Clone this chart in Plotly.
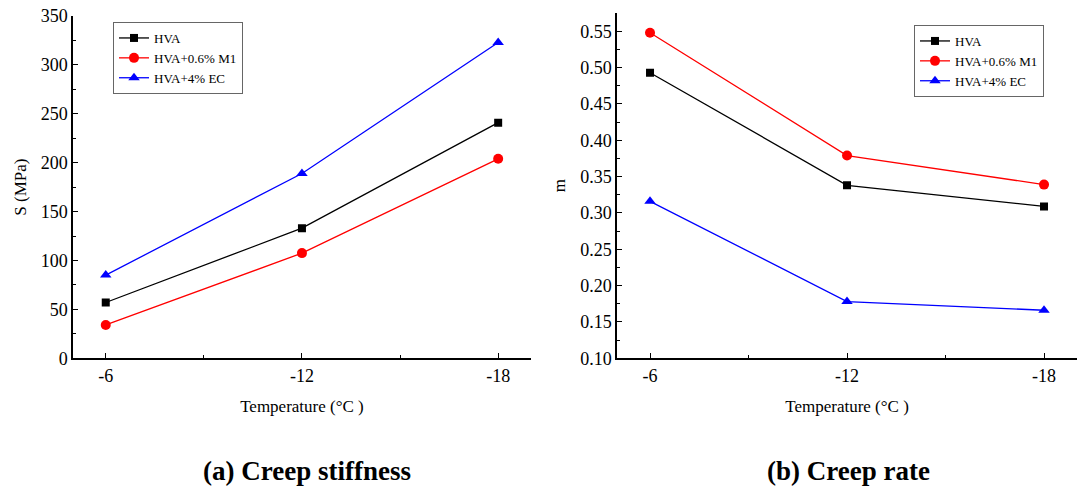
import plotly.graph_objects as go

temps = [-6, -12, -18]
series_names = ["HVA", "HVA+0.6% M1", "HVA+4% EC"]
colors = ["#000000", "#ff0000", "#0000ff"]
symbols = ["square", "circle", "triangle-up"]
msizes = [8, 10, 10]

stiffness_hva = [57, 133, 241]
stiffness_m1 = [34, 107.5, 204]
stiffness_ec = [85, 189, 323]

rate_hva = [0.493, 0.338, 0.309]
rate_m1 = [0.548, 0.379, 0.339]
rate_ec = [0.316, 0.178, 0.166]

stiff = [stiffness_hva, stiffness_m1, stiffness_ec]
rate = [rate_hva, rate_m1, rate_ec]

FONT = "Times New Roman, Liberation Serif, serif"
fig = go.Figure()

for i in range(3):
    fig.add_trace(go.Scatter(x=temps, y=stiff[i], name=series_names[i], mode="lines+markers",
                             line=dict(color=colors[i], width=1.3),
                             marker=dict(symbol=symbols[i], size=msizes[i], color=colors[i]),
                             xaxis="x", yaxis="y", legend="legend"))
for i in range(3):
    fig.add_trace(go.Scatter(x=temps, y=rate[i], name=series_names[i], mode="lines+markers",
                             line=dict(color=colors[i], width=1.3),
                             marker=dict(symbol=symbols[i], size=msizes[i], color=colors[i]),
                             xaxis="x2", yaxis="y2", legend="legend2"))

axcommon = dict(showline=True, linecolor="black", linewidth=1.5, ticks="inside", ticklen=5,
                tickwidth=1.2, tickcolor="black", showgrid=False, zeroline=False, automargin=False,
                tickfont=dict(family=FONT, size=18, color="black"))
xcommon = dict(axcommon, range=[-5, -19], tickmode="array", tickvals=temps,
               ticktext=[str(t) for t in temps],
               minor=dict(tickmode="array", tickvals=[-9, -15], ticks="inside", ticklen=3,
                          tickcolor="black", tickwidth=1.2),
               title=dict(text="Temperature (°C )", font=dict(family=FONT, size=17, color="black"), standoff=16))

fig.update_layout(
    width=1079, height=488, margin=dict(l=0, r=0, t=0, b=0, autoexpand=False),
    font=dict(family=FONT, color="black"),
    paper_bgcolor="white", plot_bgcolor="white",
    xaxis=dict(xcommon, domain=[0.0677, 0.492], anchor="y"),
    yaxis=dict(axcommon, domain=[0.266, 0.967], range=[0, 350], dtick=50, anchor="x",
               minor=dict(dtick=25, ticks="inside", ticklen=3, tickcolor="black", tickwidth=1.2),
               title=dict(text="S (MPa)", font=dict(family=FONT, size=17, color="black"), standoff=10)),
    xaxis2=dict(xcommon, domain=[0.572, 0.998], anchor="y2"),
    yaxis2=dict(axcommon, domain=[0.266, 0.973], range=[0.10, 0.575], dtick=0.05, tick0=0.10,
                tickformat=".2f", anchor="x2",
                minor=dict(dtick=0.025, tick0=0.10, ticks="inside", ticklen=3, tickcolor="black", tickwidth=1.2),
                title=dict(text="m", font=dict(family=FONT, size=17, color="black"), standoff=10)),
    legend=dict(x=113/1079, y=1-22/488, xanchor="left", yanchor="top", bordercolor="#666666",
                borderwidth=1, bgcolor="white", font=dict(family=FONT, size=13, color="black"),
                tracegroupgap=0, itemwidth=30),
    legend2=dict(x=914/1079, y=1-25/488, xanchor="left", yanchor="top", bordercolor="#666666",
                 borderwidth=1, bgcolor="white", font=dict(family=FONT, size=13, color="black"),
                 tracegroupgap=0, itemwidth=30),
    annotations=[
        dict(text="<b>(a) Creep stiffness</b>", x=307/1079, y=1-471/488, xref="paper", yref="paper",
             xanchor="center", yanchor="middle",
             showarrow=False, font=dict(family=FONT, size=27, color="black")),
        dict(text="<b>(b) Creep rate</b>", x=848/1079, y=1-471/488, xref="paper", yref="paper",
             xanchor="center", yanchor="middle",
             showarrow=False, font=dict(family=FONT, size=27, color="black")),
    ],
)

fig.write_html("out.html")
